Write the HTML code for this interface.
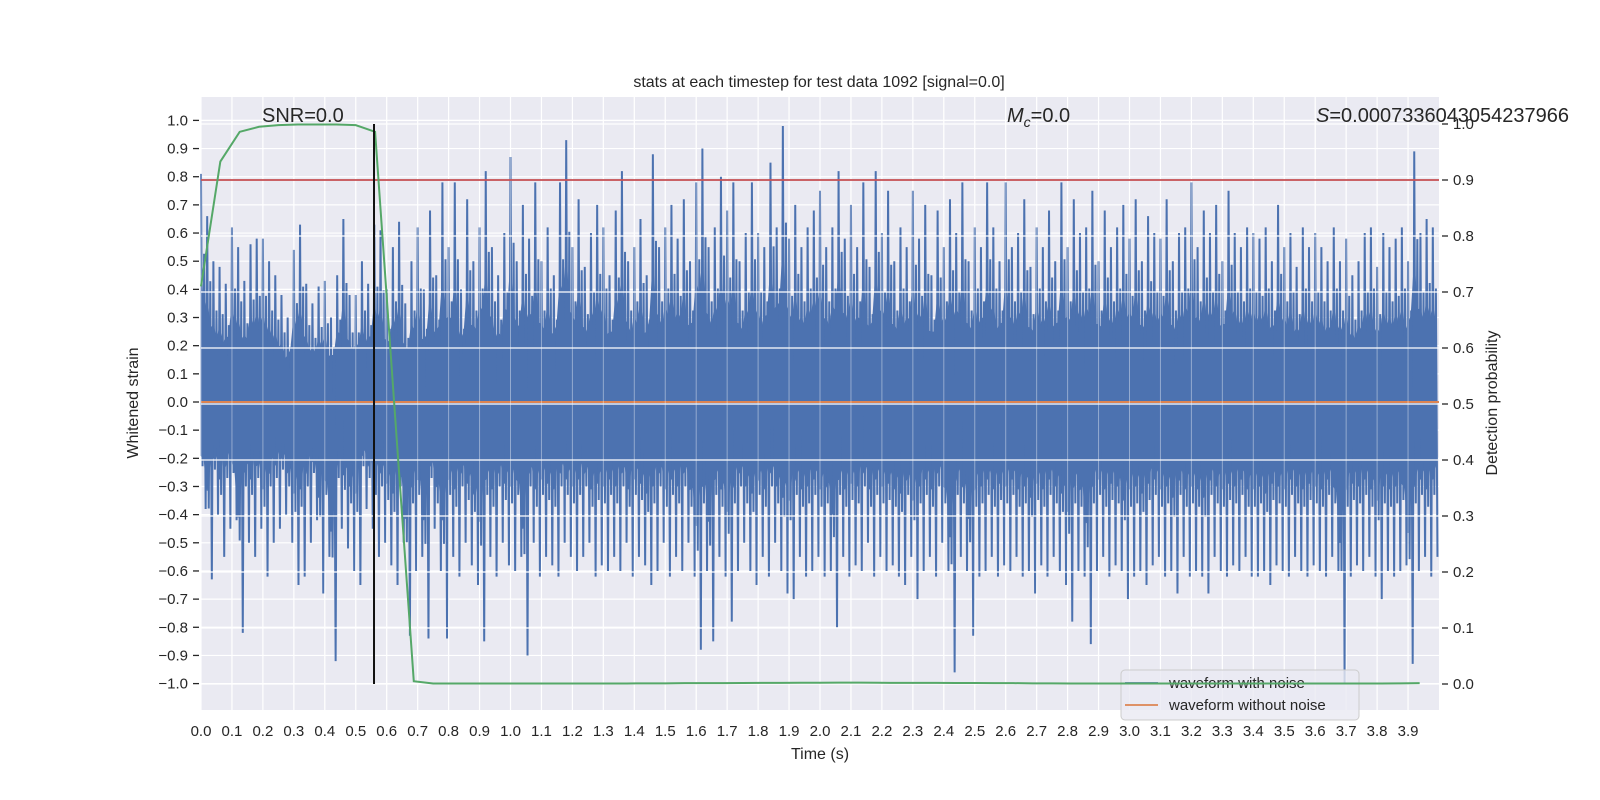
<!DOCTYPE html>
<html><head><meta charset="utf-8"><style>
html,body{margin:0;padding:0;background:#fff;}
svg{display:block;font-family:"Liberation Sans","DejaVu Sans",sans-serif;}
</style></head><body>
<svg id="chart" width="1600" height="800" viewBox="0 0 1600 800" xmlns="http://www.w3.org/2000/svg">
<rect x="201" y="97" width="1238" height="613" fill="#eaeaf2"/>
<g id="grid1"></g>
<g id="blue"></g>
<g id="orange"></g>
<g id="grid2"></g>
<g id="legend">
<rect x="1121" y="670" width="238" height="50" rx="4" fill="#eaeaf2" fill-opacity="0.8" stroke="#cccccc" stroke-width="1"/>
<line x1="1125" y1="683" x2="1158" y2="683" stroke="#4c72b0" stroke-width="1.8"/>
<text x="1169" y="688" font-size="15" fill="#262626">waveform with noise</text>
<line x1="1125" y1="705" x2="1158" y2="705" stroke="#dd8452" stroke-width="1.8"/>
<text x="1169" y="710" font-size="15" fill="#262626">waveform without noise</text>
</g>
<g id="twin"></g>
<g id="axes"></g>
<text x="819" y="87" font-size="16" fill="#262626" text-anchor="middle">stats at each timestep for test data 1092 [signal=0.0]</text>
<text x="262" y="122" font-size="20" fill="#262626">SNR=0.0</text>
<text x="1007" y="122" font-size="20" fill="#262626"><tspan font-style="italic">M</tspan><tspan font-style="italic" font-size="14" dy="5">c</tspan><tspan dy="-5">=0.0</tspan></text>
<text x="1316" y="122" font-size="20" fill="#262626"><tspan font-style="italic">S</tspan>=0.0007336043054237966</text>
<text x="820" y="759" font-size="16" fill="#262626" text-anchor="middle">Time (s)</text>
<text transform="translate(138,403) rotate(-90)" font-size="16" fill="#262626" text-anchor="middle">Whitened strain</text>
<text transform="translate(1497,403) rotate(-90)" font-size="16" fill="#262626" text-anchor="middle">Detection probability</text>
</svg>
<script>
const noiseHi=[0.81,0.66,0.5,0.48,0.42,0.62,0.55,0.43,0.56,0.58,
0.58,0.5,0.45,0.38,0.3,0.54,0.63,0.42,0.35,0.41,
0.43,0.3,0.45,0.65,0.38,0.38,0.5,0.42,0.63,0.61,
0.4,0.55,0.64,0.35,0.5,0.62,0.4,0.68,0.45,0.78,
0.55,0.78,0.4,0.72,0.5,0.62,0.82,0.55,0.45,0.6,
0.87,0.5,0.7,0.58,0.78,0.5,0.62,0.45,0.78,0.93,
0.55,0.72,0.48,0.6,0.7,0.62,0.45,0.68,0.82,0.5,
0.55,0.65,0.45,0.88,0.55,0.62,0.7,0.58,0.72,0.5,
0.78,0.9,0.55,0.62,0.8,0.68,0.78,0.5,0.6,0.78,
0.6,0.55,0.85,0.62,0.98,0.58,0.7,0.55,0.62,0.68,
0.75,0.55,0.62,0.82,0.58,0.7,0.55,0.78,0.48,0.82,
0.6,0.75,0.5,0.62,0.55,0.75,0.58,0.7,0.45,0.68,
0.55,0.72,0.6,0.78,0.5,0.62,0.55,0.78,0.62,0.5,
0.78,0.55,0.6,0.72,0.48,0.62,0.55,0.68,0.5,0.78,
0.55,0.72,0.6,0.62,0.75,0.5,0.68,0.55,0.62,0.7,
0.58,0.72,0.5,0.66,0.6,0.58,0.72,0.5,0.6,0.62,
0.78,0.55,0.68,0.6,0.7,0.5,0.75,0.6,0.55,0.62,
0.6,0.58,0.62,0.5,0.7,0.55,0.6,0.48,0.62,0.55,
0.6,0.55,0.5,0.62,0.5,0.58,0.45,0.5,0.6,0.62,
0.48,0.6,0.55,0.58,0.62,0.5,0.89,0.6,0.65,0.62];
const noiseLo=[-0.38,-0.63,-0.4,-0.55,-0.45,-0.42,-0.82,-0.5,-0.55,-0.45,
-0.62,-0.5,-0.45,-0.4,-0.5,-0.65,-0.62,-0.5,-0.42,-0.68,
-0.55,-0.92,-0.45,-0.52,-0.6,-0.65,-0.38,-0.45,-0.55,-0.5,
-0.58,-0.65,-0.5,-0.83,-0.6,-0.55,-0.84,-0.45,-0.6,-0.84,
-0.55,-0.62,-0.5,-0.58,-0.65,-0.85,-0.55,-0.62,-0.5,-0.58,
-0.6,-0.55,-0.9,-0.5,-0.62,-0.55,-0.58,-0.62,-0.5,-0.55,
-0.6,-0.55,-0.5,-0.62,-0.58,-0.6,-0.55,-0.6,-0.5,-0.62,
-0.55,-0.58,-0.65,-0.6,-0.5,-0.62,-0.55,-0.6,-0.5,-0.62,
-0.88,-0.6,-0.85,-0.55,-0.62,-0.78,-0.6,-0.5,-0.6,-0.65,
-0.55,-0.62,-0.5,-0.6,-0.68,-0.7,-0.55,-0.62,-0.6,-0.55,
-0.62,-0.6,-0.8,-0.55,-0.62,-0.58,-0.6,-0.5,-0.62,-0.55,
-0.6,-0.58,-0.62,-0.65,-0.55,-0.7,-0.6,-0.55,-0.62,-0.5,
-0.6,-0.96,-0.55,-0.6,-0.83,-0.62,-0.6,-0.55,-0.62,-0.58,
-0.6,-0.55,-0.62,-0.6,-0.68,-0.58,-0.62,-0.55,-0.6,-0.65,
-0.78,-0.6,-0.62,-0.86,-0.6,-0.55,-0.62,-0.58,-0.6,-0.7,
-0.62,-0.6,-0.65,-0.58,-0.55,-0.62,-0.6,-0.68,-0.55,-0.62,
-0.6,-0.62,-0.68,-0.55,-0.6,-0.62,-0.58,-0.6,-0.55,-0.62,
-0.62,-0.6,-0.65,-0.58,-0.6,-0.62,-0.55,-0.6,-0.62,-0.58,
-0.6,-0.62,-0.55,-0.6,-1.0,-0.62,-0.58,-0.6,-0.55,-0.62,
-0.7,-0.6,-0.62,-0.6,-0.58,-0.93,-0.6,-0.55,-0.62,-0.55];
const probTimes=[0,0.0625,0.125,0.1875,0.25,0.3125,0.375,0.4375,0.5,0.5625,0.625,0.6875,0.75,0.8125,0.875,0.9375,1.0,1.0625,1.125,1.1875,1.25,1.3125,1.375,1.4375,1.5,1.5625,1.625,1.6875,1.75,1.8125,1.875,1.9375,2.0,2.0625,2.125,2.1875,2.25,2.3125,2.375,2.4375,2.5,2.5625,2.625,2.6875,2.75,2.8125,2.875,2.9375,3.0,3.0625,3.125,3.1875,3.25,3.3125,3.375,3.4375,3.5,3.5625,3.625,3.6875,3.75,3.8125,3.875,3.9375];
const probValues=[0.71,0.933,0.986,0.995,0.998,0.999,0.999,0.999,0.998,0.986,0.495,0.005,0.001,0.0008,0.0008,0.0008,0.0008,0.0009,0.001,0.001,0.001,0.001,0.001,0.0012,0.0012,0.0015,0.0015,0.0015,0.0018,0.002,0.002,0.0022,0.0022,0.0025,0.0025,0.0022,0.002,0.002,0.002,0.0018,0.0018,0.0015,0.0015,0.0012,0.0012,0.001,0.001,0.001,0.001,0.001,0.001,0.001,0.001,0.001,0.001,0.001,0.001,0.001,0.001,0.001,0.001,0.001,0.0012,0.0015];
const threshold=0.9;
const markerTime=0.559;
const xTicks=[0,0.1,0.2,0.3,0.4,0.5,0.6,0.7,0.8,0.9,1.0,1.1,1.2,1.3,1.4,1.5,1.6,1.7,1.8,1.9,2.0,2.1,2.2,2.3,2.4,2.5,2.6,2.7,2.8,2.9,3.0,3.1,3.2,3.3,3.4,3.5,3.6,3.7,3.8,3.9];
const yTicks=[1.0,0.9,0.8,0.7,0.6,0.5,0.4,0.3,0.2,0.1,0,-0.1,-0.2,-0.3,-0.4,-0.5,-0.6,-0.7,-0.8,-0.9,-1.0];
const pTicks=[0,0.1,0.2,0.3,0.4,0.5,0.6,0.7,0.8,0.9,1.0];

const NS='http://www.w3.org/2000/svg';
const L=201,R=1439,T=97,B=710;
const X=t=>201+t*309.5;
const Y=v=>402-v*281.6;
const P=p=>684-p*560;
function mk(tag,parent,attrs){const e=document.createElementNS(NS,tag);for(const k in attrs)e.setAttribute(k,attrs[k]);parent.appendChild(e);return e;}
const g1=document.getElementById('grid1'),g2=document.getElementById('grid2'),blue=document.getElementById('blue'),orange=document.getElementById('orange'),twin=document.getElementById('twin'),axes=document.getElementById('axes');
const fmt=v=>{let s=Math.abs(v).toFixed(1);return (v<-1e-9?'\u2212':'')+s;};
xTicks.forEach(t=>{
 const l=mk('line',g1,{x1:X(t),x2:X(t),y1:T,y2:B,stroke:'#fff','stroke-width':1.2});
 
 
 const l2=mk('line',g2,{x1:X(t),x2:X(t),y1:T,y2:B,stroke:'#fff','stroke-width':1,'stroke-opacity':0.4});
 
 
 const tx=mk('text',axes,{x:X(t),y:736,'font-size':15,fill:'#262626','text-anchor':'middle'});
 tx.textContent=t.toFixed(1);
 
 
});
yTicks.forEach(v=>{
 const l=mk('line',g1,{x1:L,x2:R,y1:Y(v),y2:Y(v),stroke:'#fff','stroke-width':1.2});
 
 
 const tk=mk('line',axes,{x1:193,x2:199,y1:Y(v),y2:Y(v),stroke:'#262626','stroke-width':1.3});
 
 
 const tx=mk('text',axes,{x:188,y:Y(v)+5,'font-size':15,fill:'#262626','text-anchor':'end'});
 tx.textContent=fmt(v);
 
 
});
pTicks.forEach(p=>{
 const l=mk('line',g2,{x1:L,x2:R,y1:P(p),y2:P(p),stroke:'#fff','stroke-width':1.2});
 
 
 const tk=mk('line',axes,{x1:1442,x2:1448,y1:P(p),y2:P(p),stroke:'#262626','stroke-width':1.3});
 
 
 const tx=mk('text',axes,{x:1453,y:P(p)+5,'font-size':15,fill:'#262626'});
 tx.textContent=p.toFixed(1);
 
 
});
// noise waveform
const n=noiseHi.length, dt=4.0/n;
// dense core envelope
let up=[],dn=[];
noiseHi.forEach((h,i)=>{
 const t=i*dt;
 up.push(X(t)+','+Y(h*0.55));
 up.push(X(t+dt*0.5)+','+Y(((noiseHi[i+1]||h)+h)*0.22));
 dn.push(X(t)+','+Y(noiseLo[i]*0.5));
 dn.push(X(t+dt*0.5)+','+Y(((noiseLo[i+1]||noiseLo[i])+noiseLo[i])*0.2));
});
const core=mk('polygon',blue,{points:up.concat(dn.reverse()).join(' '),fill:'#4c72b0',stroke:'#4c72b0','stroke-width':1});


let pts=[];
noiseHi.forEach((h,i)=>{
 const lo=noiseLo[i],t0=i*dt;
 pts.push(X(t0)+','+Y(h));
 pts.push(X(t0+dt*0.25)+','+Y(lo*0.6));
 pts.push(X(t0+dt*0.5)+','+Y(h*0.65));
 pts.push(X(t0+dt*0.75)+','+Y(lo));
});
const bl=mk('polyline',blue,{points:pts.join(' '),fill:'none',stroke:'#4c72b0','stroke-width':2,'stroke-linejoin':'miter'});


const ol=mk('line',orange,{x1:L,x2:R,y1:Y(0),y2:Y(0),stroke:'#dd8452','stroke-width':2});


// twin axis
const rl=mk('line',twin,{x1:L,x2:R,y1:P(threshold),y2:P(threshold),stroke:'#c44e52','stroke-width':1.8});


const gp=probTimes.map((t,i)=>X(t)+','+P(probValues[i])).join(' ');
const gl=mk('polyline',twin,{points:gp,fill:'none',stroke:'#55a868','stroke-width':2});


const kl=mk('line',twin,{x1:X(markerTime),x2:X(markerTime),y1:P(1),y2:P(0),stroke:'#111','stroke-width':2});


</script>
</body></html>
